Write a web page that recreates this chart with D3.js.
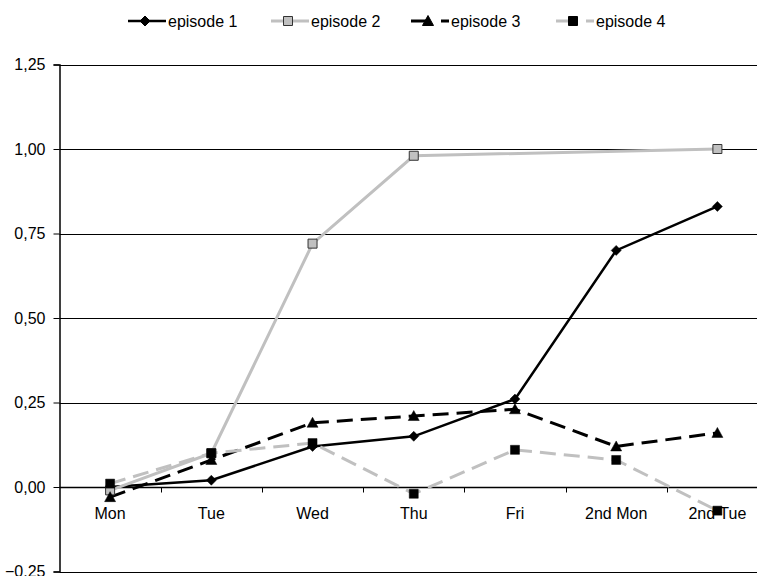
<!DOCTYPE html>
<html>
<head>
<meta charset="utf-8">
<script src="https://cdn.jsdelivr.net/npm/d3@7"></script>
<style>
  body { margin: 0; background: #fff; }
  svg { display: block; font-family: "Liberation Sans", Arial, sans-serif; }
</style>
</head>
<body>
<script>
(function() {

    var days = ["Mon", "Tue", "Wed", "Thu", "Fri", "2nd Mon", "2nd Tue"];
    var episodeNames = ["episode 1", "episode 2", "episode 3", "episode 4"];
    var episode1 = [0.00, 0.02, 0.12, 0.15, 0.26, 0.70, 0.83];
    var episode2 = [-0.01, 0.10, 0.72, 0.98, null, null, 1.00];
    var episode3 = [-0.03, 0.08, 0.19, 0.21, 0.23, 0.12, 0.16];
    var episode4 = [0.01, 0.10, 0.13, -0.02, 0.11, 0.08, -0.07];
    var yTicks = [-0.25, 0, 0.25, 0.5, 0.75, 1, 1.25];

    var width = 757,
        height = 576,
        plotLeft = 59.5,
        plotRight = 768,
        plotTop = 64.5,
        plotBottom = 571.5,
        fontSize = 16;

    var svg = d3.select("body")
        .append("svg")
        .attr("width", width)
        .attr("height", height);

    var x = d3.scaleBand()
        .domain(days)
        .range([plotLeft, plotRight]);

    var y = d3.scaleLinear()
        .domain([-0.25, 1.25])
        .range([plotBottom, plotTop]);

    var fmt = function(d) { return d3.format(".2f")(d).replace(".", ","); };

    // gridlines
    svg.append("g")
        .selectAll("line")
        .data(yTicks)
        .enter()
        .append("line")
        .attr("x1", plotLeft)
        .attr("x2", plotRight)
        .attr("y1", function(d) { return Math.round(y(d)) + 0.5; })
        .attr("y2", function(d) { return Math.round(y(d)) + 0.5; })
        .attr("stroke", "#000")
        .attr("stroke-width", 1);

    // y axis
    var yAxis = svg.append("g")
        .attr("transform", "translate(" + plotLeft + ",0)")
        .call(d3.axisLeft(y).tickValues(yTicks).tickFormat(fmt).tickSize(6).tickPadding(8));
    yAxis.select(".domain").attr("stroke-width", 1.5);
    yAxis.selectAll("text")
        .attr("font-size", fontSize)
        .attr("font-family", "Liberation Sans, Arial, sans-serif")
        .attr("fill", "#000");

    // x axis at zero
    var boundaries = days.map(function(d) { return x(d) + x.bandwidth(); });
    var zeroY = Math.round(y(0)) + 0.5;
    svg.append("line")
        .attr("x1", plotLeft).attr("x2", plotRight)
        .attr("y1", zeroY).attr("y2", zeroY)
        .attr("stroke", "#000").attr("stroke-width", 1.5);
    svg.append("g")
        .selectAll("line")
        .data(boundaries)
        .enter()
        .append("line")
        .attr("x1", function(d) { return Math.round(d) + 0.5; })
        .attr("x2", function(d) { return Math.round(d) + 0.5; })
        .attr("y1", zeroY)
        .attr("y2", zeroY + 5)
        .attr("stroke", "#000");
    svg.append("g")
        .selectAll("text")
        .data(days)
        .enter()
        .append("text")
        .attr("x", function(d) { return x(d) + x.bandwidth() / 2; })
        .attr("y", zeroY + 31)
        .attr("text-anchor", "middle")
        .attr("font-size", fontSize)
        .text(function(d) { return d; });

    var series = [
        { name: episodeNames[0], values: episode1, color: "#000", width: 2.5, dash: null, marker: "diamond", fill: "#000", stroke: "#000" },
        { name: episodeNames[1], values: episode2, color: "#c0c0c0", width: 3, dash: null, marker: "square", fill: "#c0c0c0", stroke: "#333" },
        { name: episodeNames[2], values: episode3, color: "#000", width: 3, dash: "16,8", marker: "triangle", fill: "#000", stroke: "#000" },
        { name: episodeNames[3], values: episode4, color: "#c0c0c0", width: 3, dash: "16,8", marker: "square", fill: "#000", stroke: "#000" }
    ];

    function markerPath(type) {
        if (type == "diamond") return "M0,-5L5,0L0,5L-5,0Z";
        if (type == "triangle") return "M0,-5.5L5.5,4.5L-5.5,4.5Z";
        return "M-4.5,-4.5H4.5V4.5H-4.5Z";
    }

    var line = d3.line()
        .x(function(d) { return x(d.day) + x.bandwidth() / 2; })
        .y(function(d) { return y(d.value); });

    series.forEach(function(s) {
        var pts = s.values.map(function(v, i) { return { day: days[i], value: v }; })
            .filter(function(d) { return d.value !== null; });
        svg.append("path")
            .datum(pts)
            .attr("d", line)
            .attr("fill", "none")
            .attr("stroke", s.color)
            .attr("stroke-width", s.width)
            .attr("stroke-dasharray", s.dash);
    });

    series.forEach(function(s) {
        var pts = s.values.map(function(v, i) { return { day: days[i], value: v }; })
            .filter(function(d) { return d.value !== null; });
        svg.append("g")
            .selectAll("path")
            .data(pts)
            .enter()
            .append("path")
            .attr("transform", function(d) {
                return "translate(" + (x(d.day) + x.bandwidth() / 2) + "," + y(d.value) + ")";
            })
            .attr("d", markerPath(s.marker))
            .attr("fill", s.fill)
            .attr("stroke", s.stroke)
            .attr("stroke-width", s.marker == "square" && s.fill != "#000" ? 1 : 0.5);
    });

    // legend
    var legendX = [128, 271, 411, 556];
    var legend = svg.append("g")
        .selectAll("g")
        .data(series)
        .enter()
        .append("g")
        .attr("transform", function(d, i) { return "translate(" + legendX[i] + ",21)"; });
    legend.append("line")
        .attr("x1", 0).attr("x2", 38)
        .attr("y1", 0).attr("y2", 0)
        .attr("stroke", function(d) { return d.color; })
        .attr("stroke-width", function(d) { return d.width; })
        .attr("stroke-dasharray", function(d) { return d.dash ? "18,12" : null; });
    legend.append("path")
        .attr("transform", "translate(17,0)")
        .attr("d", function(d) { return markerPath(d.marker); })
        .attr("fill", function(d) { return d.fill; })
        .attr("stroke", function(d) { return d.stroke; })
        .attr("stroke-width", 1);
    legend.append("text")
        .attr("x", 40)
        .attr("y", 0)
        .attr("dy", "0.35em")
        .attr("font-size", fontSize)
        .text(function(d) { return d.name; });

})();
</script>
</body>
</html>
